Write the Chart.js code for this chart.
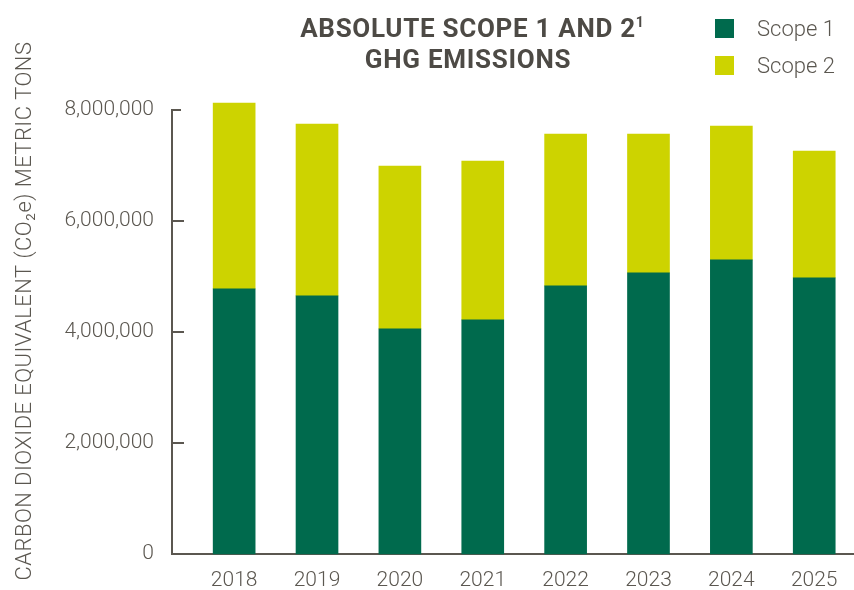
<!DOCTYPE html>
<html>
<head>
<meta charset="utf-8">
<script src="https://cdn.jsdelivr.net/npm/chart.js@4.4.1/dist/chart.umd.min.js"></script>
<style>
  html, body { margin: 0; padding: 0; background: #ffffff; }
  #wrap { width: 854px; height: 590px; position: relative; }
</style>
</head>
<body>
<div id="wrap"><canvas id="c" width="854" height="590"></canvas></div>
<script>
// ---- data ----
const years = [2018, 2019, 2020, 2021, 2022, 2023, 2024, 2025];
const scope1 = [4777000, 4651000, 4057000, 4219000, 4831000, 5065000, 5299000, 4975000];
const scope2 = [3349000, 3097000, 2934000, 2862000, 2737000, 2503000, 2413000, 2286000];
const seriesNames = ['Scope 1', 'Scope 2'];
const yTicks = [0, 2000000, 4000000, 6000000, 8000000];
const titleLine1 = 'ABSOLUTE SCOPE 1 AND 2';
const titleSup = '1';
const titleLine2 = 'GHG EMISSIONS';
const yTitle = 'CARBON DIOXIDE EQUIVALENT (CO\u2082e) METRIC TONS';

// ---- styles ----
const C1 = '#006a4d';
const C2 = '#cdd300';
const AXIS = '#5b5750';
const TEXT = '#5b5750';
const TITLE = '#4d4a45';
const FONT = 'Roboto, "Liberation Sans", sans-serif';

const decor = {
  id: 'decor',
  afterDraw(chart) {
    const ctx = chart.ctx;
    const y = chart.scales.y;
    const left = chart.chartArea.left;
    ctx.save();
    // inward tick marks on y axis
    ctx.strokeStyle = AXIS;
    ctx.lineWidth = 2;
    yTicks.forEach(v => {
      if (v === 0) return;
      const py = Math.round(y.getPixelForValue(v));
      ctx.beginPath();
      ctx.moveTo(left, py);
      ctx.lineTo(left + (v === yTicks[yTicks.length - 1] ? 9 : 12), py);
      ctx.stroke();
    });
    // title
    ctx.fillStyle = TITLE;
    ctx.textBaseline = 'alphabetic';
    const cx = 468;
    ctx.letterSpacing = '0.7px';
    ctx.font = 'bold 26px ' + FONT;
    const w1 = ctx.measureText(titleLine1).width;
    ctx.textAlign = 'left';
    const x1 = cx - w1 / 2;
    ctx.fillText(titleLine1, x1, 37);
    ctx.font = 'bold 14px ' + FONT;
    ctx.fillText(titleSup, x1 + w1, 27);
    ctx.font = 'bold 26px ' + FONT;
    ctx.textAlign = 'center';
    ctx.fillText(titleLine2, cx, 68);
    ctx.letterSpacing = '0px';
    // legend
    const ds = chart.data.datasets;
    ctx.font = '300 22px ' + FONT;
    ctx.textAlign = 'left';
    ds.forEach((d, i) => {
      const top = 19 + i * 37;
      ctx.fillStyle = d.backgroundColor;
      ctx.fillRect(715, top, 19, 19);
      ctx.fillStyle = TEXT;
      ctx.fillText(d.label, 757, top + 17);
    });
    // y axis title
    ctx.translate(31, 311);
    ctx.rotate(-Math.PI / 2);
    ctx.textAlign = 'center';
    ctx.fillStyle = TEXT;
    ctx.letterSpacing = '0.45px';
    ctx.font = '300 22px ' + FONT;
    ctx.fillText(yTitle, 0, 0);
    ctx.restore();
  }
};

new Chart(document.getElementById('c'), {
  type: 'bar',
  data: {
    datasets: [
      { label: seriesNames[0], data: years.map((yr, i) => ({ x: yr, y: scope1[i] })), backgroundColor: C1, barThickness: 42, clip: false },
      { label: seriesNames[1], data: years.map((yr, i) => ({ x: yr, y: scope2[i] })), backgroundColor: C2, barThickness: 42, clip: false }
    ]
  },
  options: {
    responsive: false,
    animation: false,
    layout: { padding: { top: 110, right: 0, left: 0, bottom: 0 } },
    plugins: { legend: { display: false }, title: { display: false }, tooltip: { enabled: false } },
    scales: {
      x: {
        type: 'linear',
        stacked: true,
        offset: false,
        min: 2017.25,
        max: 2025.48,
        afterBuildTicks: s => { s.ticks = years.map(v => ({ value: v })); },
        afterFit: s => { s.height = 36; },
        grid: { display: false, drawTicks: false, offset: false },
        border: { display: true, color: AXIS, width: 2 },
        ticks: {
          autoSkip: false, maxRotation: 0, padding: 14,
          color: TEXT, font: { family: FONT, size: 21, weight: '300' },
          callback: v => String(v)
        }
      },
      y: {
        stacked: true,
        min: 0,
        max: 8000000,
        afterBuildTicks: s => { s.ticks = yTicks.map(v => ({ value: v })); },
        afterFit: s => { s.width = 172; },
        grid: { display: false, drawTicks: false },
        border: { display: true, color: AXIS, width: 2 },
        ticks: {
          padding: 18,
          color: TEXT, font: { family: FONT, size: 21, weight: '300' },
          callback: v => v.toLocaleString('en-US')
        }
      }
    }
  },
  plugins: [decor]
});
</script>
</body>
</html>
